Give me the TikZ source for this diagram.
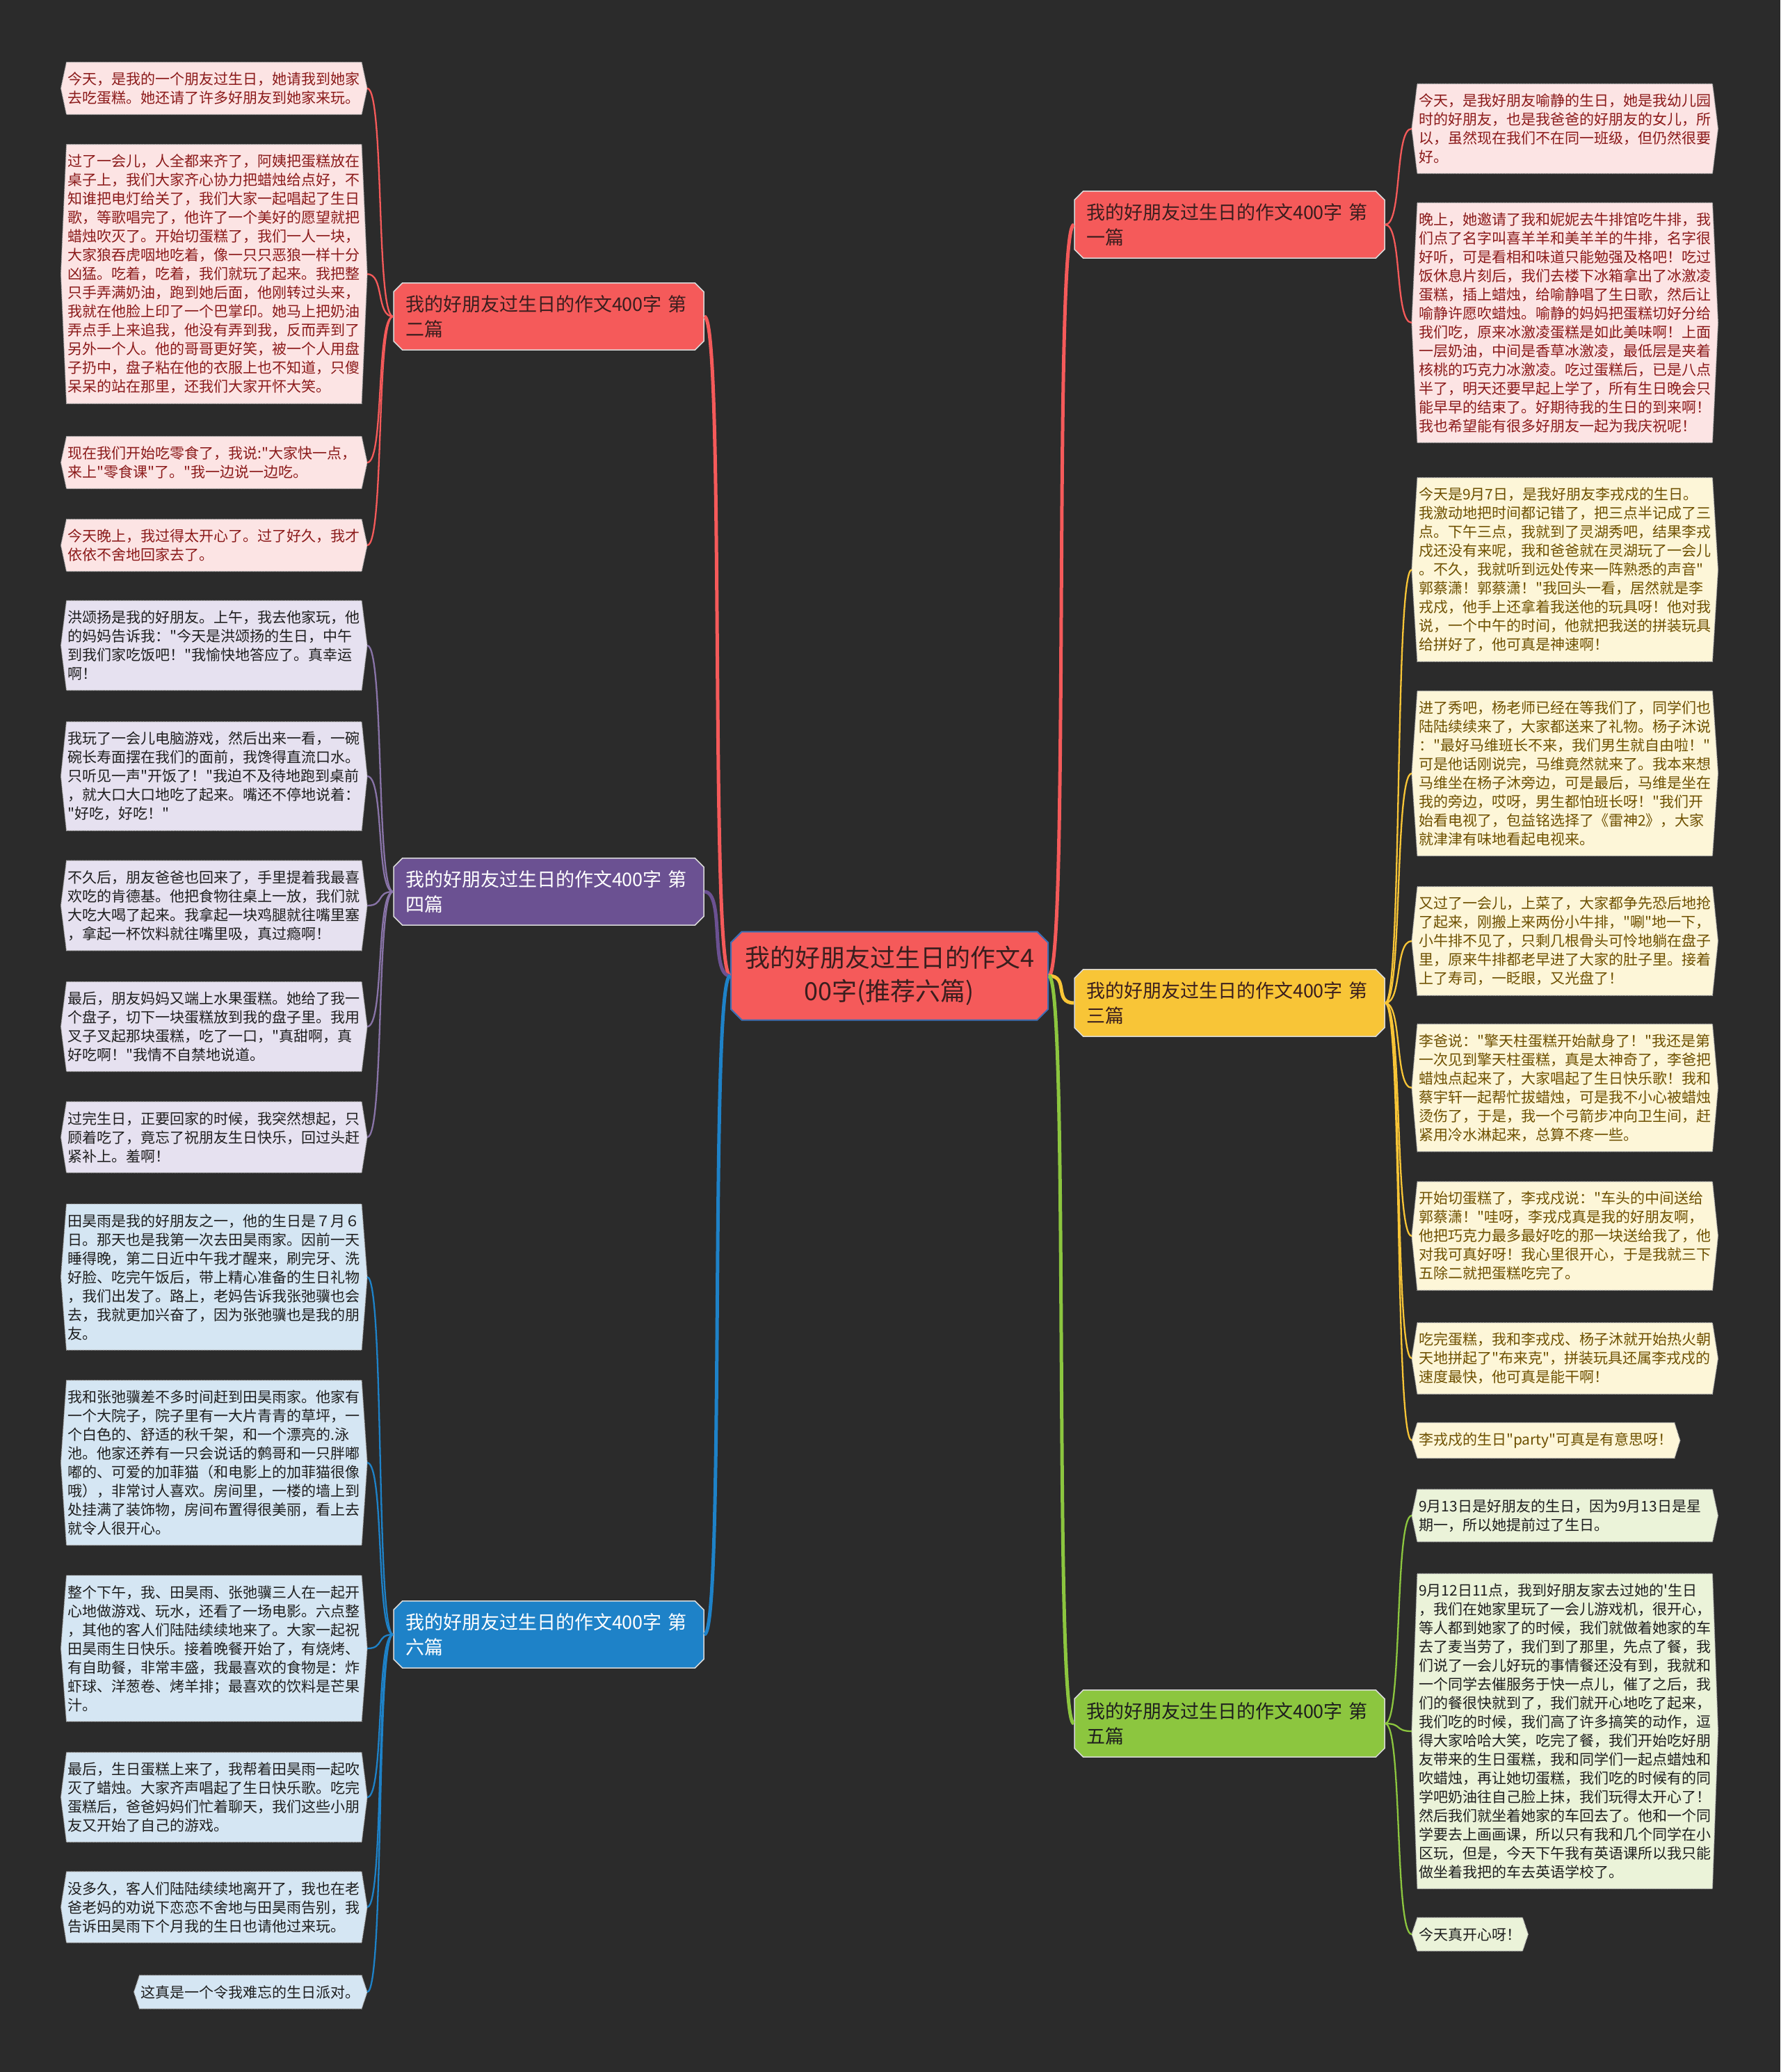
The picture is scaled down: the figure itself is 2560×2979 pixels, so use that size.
\documentclass[tikz,border=0pt]{standalone}
\usepackage{fontspec}
\setmainfont{Noto Sans CJK SC}[Ligatures=TeXOff]
\usetikzlibrary{shapes.misc,backgrounds}

\definecolor{bgdark}{HTML}{2B2B2B}
\definecolor{redfill}{HTML}{F55A5A}
\definecolor{redtext}{HTML}{3A1E1E}
\definecolor{coreedge}{HTML}{3E6FB5}
\definecolor{purplefill}{HTML}{6B5192}
\definecolor{bluefill}{HTML}{1E82C8}
\definecolor{yellowfill}{HTML}{F8C537}
\definecolor{greenfill}{HTML}{8CC63F}
\definecolor{pinkleaf}{HTML}{FCE4E4}
\definecolor{pinktext}{HTML}{8B1A1A}
\definecolor{lavleaf}{HTML}{E6E1F0}
\definecolor{skyleaf}{HTML}{D5E6F3}
\definecolor{creamleaf}{HTML}{FDF6D8}
\definecolor{creamtext}{HTML}{6E5000}
\definecolor{mintleaf}{HTML}{EBF3D9}
\definecolor{inktext}{HTML}{1E1E1E}

\tikzset{
  core/.style={chamfered rectangle, chamfered rectangle xsep=12pt, fill=redfill, draw=coreedge,
    line width=2pt, text=redtext, align=center, minimum width=456pt, minimum height=127pt,
    font=\fontsize{36}{48}\selectfont},
  topic/.style={chamfered rectangle, chamfered rectangle xsep=9pt, draw=white!85!black,
    line width=1.5pt, text width=412pt, align=left, inner xsep=8pt, inner ysep=14pt,
    font=\fontsize{27}{36}\selectfont},
  leaf/.style={align=left, inner xsep=10pt, inner ysep=14pt, font=\fontsize{21}{27}\selectfont},
  wide/.style={leaf, text width=420pt},
  lhs/.style={anchor=east},
  rhs/.style={anchor=west},
  hexedge/.style={draw=white!72!black, densely dotted, line width=1.2pt},
  bough/.style={line width=5pt},
  twig/.style={line width=2.3pt}
}

\begin{document}
\begin{tikzpicture}[x=1pt, y=-1pt]
  \useasboundingbox (0,0) rectangle (2560,2979);

  % centre and branches
  \node[core] (core) at (1279,1403) {我的好朋友过生日的作文4\\00字(推荐六篇)};
  \node[topic, fill=redfill, text=redtext] (b2) at (789,455) {我的好朋友过生日的作文400字 第\\二篇};
  \node[topic, fill=purplefill, text=white] (b4) at (789,1282) {我的好朋友过生日的作文400字 第\\四篇};
  \node[topic, fill=bluefill, text=white] (b6) at (789,2350) {我的好朋友过生日的作文400字 第\\六篇};
  \node[topic, fill=redfill, text=redtext] (b1) at (1768,323) {我的好朋友过生日的作文400字 第\\一篇};
  \node[topic, fill=yellowfill, text=redtext] (b3) at (1768,1442) {我的好朋友过生日的作文400字 第\\三篇};
  \node[topic, fill=greenfill, text=inktext] (b5) at (1768,2478) {我的好朋友过生日的作文400字 第\\五篇};

  % second piece
  \node[wide, lhs, text=pinktext] (l2a) at (528,127) {今天，是我的一个朋友过生日，她请我到她家\\去吃蛋糕。她还请了许多好朋友到她家来玩。};
  \node[wide, lhs, text=pinktext] (l2b) at (528,394) {过了一会儿，人全都来齐了，阿姨把蛋糕放在\\桌子上，我们大家齐心协力把蜡烛给点好，不\\知谁把电灯给关了，我们大家一起唱起了生日\\歌，等歌唱完了，他许了一个美好的愿望就把\\蜡烛吹灭了。开始切蛋糕了，我们一人一块，\\大家狼吞虎咽地吃着，像一只只恶狼一样十分\\凶猛。吃着，吃着，我们就玩了起来。我把整\\只手弄满奶油，跑到她后面，他刚转过头来，\\我就在他脸上印了一个巴掌印。她马上把奶油\\弄点手上来追我，他没有弄到我，反而弄到了\\另外一个人。他的哥哥更好笑，被一个人用盘\\子扔中，盘子粘在他的衣服上也不知道，只傻\\呆呆的站在那里，还我们大家开怀大笑。};
  \node[wide, lhs, text=pinktext] (l2c) at (528,665) {现在我们开始吃零食了，我说:"大家快一点，\\来上"零食课"了。"我一边说一边吃。};
  \node[wide, lhs, text=pinktext] (l2d) at (528,784) {今天晚上，我过得太开心了。过了好久，我才\\依依不舍地回家去了。};

  % fourth piece
  \node[wide, lhs, text=inktext] (l4a) at (528,928) {洪颂扬是我的好朋友。上午，我去他家玩，他\\的妈妈告诉我："今天是洪颂扬的生日，中午\\到我们家吃饭吧！"我愉快地答应了。真幸运\\啊！};
  \node[wide, lhs, text=inktext] (l4b) at (528,1116) {我玩了一会儿电脑游戏，然后出来一看，一碗\\碗长寿面摆在我们的面前，我馋得直流口水。\\只听见一声"开饭了！"我迫不及待地跑到桌前\\，就大口大口地吃了起来。嘴还不停地说着：\\"好吃，好吃！"};
  \node[wide, lhs, text=inktext] (l4c) at (528,1302) {不久后，朋友爸爸也回来了，手里提着我最喜\\欢吃的肯德基。他把食物往桌上一放，我们就\\大吃大喝了起来。我拿起一块鸡腿就往嘴里塞\\，拿起一杯饮料就往嘴里吸，真过瘾啊！};
  \node[wide, lhs, text=inktext] (l4d) at (528,1476) {最后，朋友妈妈又端上水果蛋糕。她给了我一\\个盘子，切下一块蛋糕放到我的盘子里。我用\\叉子叉起那块蛋糕，吃了一口，"真甜啊，真\\好吃啊！"我情不自禁地说道。};
  \node[wide, lhs, text=inktext] (l4e) at (528,1635) {过完生日，正要回家的时候，我突然想起，只\\顾着吃了，竟忘了祝朋友生日快乐，回过头赶\\紧补上。羞啊！};

  % sixth piece
  \node[wide, lhs, text=inktext] (l6a) at (528,1836) {田昊雨是我的好朋友之一，他的生日是７月６\\日。那天也是我第一次去田昊雨家。因前一天\\睡得晚，第二日近中午我才醒来，刷完牙、洗\\好脸、吃完午饭后，带上精心准备的生日礼物\\，我们出发了。路上，老妈告诉我张弛骥也会\\去，我就更加兴奋了，因为张弛骥也是我的朋\\友。};
  \node[wide, lhs, text=inktext] (l6b) at (528,2103) {我和张弛骥差不多时间赶到田昊雨家。他家有\\一个大院子，院子里有一大片青青的草坪，一\\个白色的、舒适的秋千架，和一个漂亮的.泳\\池。他家还养有一只会说话的鹩哥和一只胖嘟\\嘟的、可爱的加菲猫（和电影上的加菲猫很像\\哦），非常讨人喜欢。房间里，一楼的墙上到\\处挂满了装饰物，房间布置得很美丽，看上去\\就令人很开心。};
  \node[wide, lhs, text=inktext] (l6c) at (528,2370) {整个下午，我、田昊雨、张弛骥三人在一起开\\心地做游戏、玩水，还看了一场电影。六点整\\，其他的客人们陆陆续续地来了。大家一起祝\\田昊雨生日快乐。接着晚餐开始了，有烧烤、\\有自助餐，非常丰盛，我最喜欢的食物是：炸\\虾球、洋葱卷、烤羊排；最喜欢的饮料是芒果\\汁。};
  \node[wide, lhs, text=inktext] (l6d) at (528,2584) {最后，生日蛋糕上来了，我帮着田昊雨一起吹\\灭了蜡烛。大家齐声唱起了生日快乐歌。吃完\\蛋糕后，爸爸妈妈们忙着聊天，我们这些小朋\\友又开始了自己的游戏。};
  \node[wide, lhs, text=inktext] (l6e) at (528,2742) {没多久，客人们陆陆续续地离开了，我也在老\\爸老妈的劝说下恋恋不舍地与田昊雨告别，我\\告诉田昊雨下个月我的生日也请他过来玩。};
  \node[leaf, lhs, text=inktext] (l6f) at (528,2864) {这真是一个令我难忘的生日派对。};

  % first piece
  \node[wide, rhs, text=pinktext] (r1a) at (2030,185) {今天，是我好朋友喻静的生日，她是我幼儿园\\时的好朋友，也是我爸爸的好朋友的女儿，所\\以，虽然现在我们不在同一班级，但仍然很要\\好。};
  \node[wide, rhs, text=pinktext] (r1b) at (2030,464) {晚上，她邀请了我和妮妮去牛排馆吃牛排，我\\们点了名字叫喜羊羊和美羊羊的牛排，名字很\\好听，可是看相和味道只能勉强及格吧！吃过\\饭休息片刻后，我们去楼下冰箱拿出了冰激凌\\蛋糕，插上蜡烛，给喻静唱了生日歌，然后让\\喻静许愿吹蜡烛。喻静的妈妈把蛋糕切好分给\\我们吃，原来冰激凌蛋糕是如此美味啊！上面\\一层奶油，中间是香草冰激凌，最低层是夹着\\核桃的巧克力冰激凌。吃过蛋糕后，已是八点\\半了，明天还要早起上学了，所有生日晚会只\\能早早的结束了。好期待我的生日的到来啊！\\我也希望能有很多好朋友一起为我庆祝呢！};

  % third piece
  \node[wide, rhs, text=creamtext] (r3a) at (2030,819) {今天是9月7日，是我好朋友李戎戍的生日。\\我激动地把时间都记错了，把三点半记成了三\\点。下午三点，我就到了灵湖秀吧，结果李戎\\戍还没有来呢，我和爸爸就在灵湖玩了一会儿\\。不久，我就听到远处传来一阵熟悉的声音"\\郭蔡潇！郭蔡潇！"我回头一看，居然就是李\\戎戍，他手上还拿着我送他的玩具呀！他对我\\说，一个中午的时间，他就把我送的拼装玩具\\给拼好了，他可真是神速啊！};
  \node[wide, rhs, text=creamtext] (r3b) at (2030,1112) {进了秀吧，杨老师已经在等我们了，同学们也\\陆陆续续来了，大家都送来了礼物。杨子沐说\\："最好马维班长不来，我们男生就自由啦！"\\可是他话刚说完，马维竟然就来了。我本来想\\马维坐在杨子沐旁边，可是最后，马维是坐在\\我的旁边，哎呀，男生都怕班长呀！"我们开\\始看电视了，包益铭选择了《雷神2》，大家\\就津津有味地看起电视来。};
  \node[wide, rhs, text=creamtext] (r3c) at (2030,1353) {又过了一会儿，上菜了，大家都争先恐后地抢\\了起来，刚搬上来两份小牛排，"唰"地一下，\\小牛排不见了，只剩几根骨头可怜地躺在盘子\\里，原来牛排都老早进了大家的肚子里。接着\\上了寿司，一眨眼，又光盘了！};
  \node[wide, rhs, text=creamtext] (r3d) at (2030,1564) {李爸说："擎天柱蛋糕开始献身了！"我还是第\\一次见到擎天柱蛋糕，真是太神奇了，李爸把\\蜡烛点起来了，大家唱起了生日快乐歌！我和\\蔡宇轩一起帮忙拔蜡烛，可是我不小心被蜡烛\\烫伤了，于是，我一个弓箭步冲向卫生间，赶\\紧用冷水淋起来，总算不疼一些。};
  \node[wide, rhs, text=creamtext] (r3e) at (2030,1777) {开始切蛋糕了，李戎戍说："车头的中间送给\\郭蔡潇！"哇呀，李戎戍真是我的好朋友啊，\\他把巧克力最多最好吃的那一块送给我了，他\\对我可真好呀！我心里很开心，于是我就三下\\五除二就把蛋糕吃完了。};
  \node[wide, rhs, text=creamtext] (r3f) at (2030,1953) {吃完蛋糕，我和李戎戍、杨子沐就开始热火朝\\天地拼起了"布来克"，拼装玩具还属李戎戍的\\速度最快，他可真是能干啊！};
  \node[leaf, rhs, text=creamtext] (r3g) at (2030,2071) {李戎戍的生日"party"可真是有意思呀！};

  % fifth piece
  \node[wide, rhs, text=inktext] (r5a) at (2030,2179) {9月13日是好朋友的生日，因为9月13日是星\\期一，所以她提前过了生日。};
  \node[wide, rhs, text=inktext] (r5b) at (2030,2489) {9月12日11点，我到好朋友家去过她的'生日\\，我们在她家里玩了一会儿游戏机，很开心，\\等人都到她家了的时候，我们就做着她家的车\\去了麦当劳了，我们到了那里，先点了餐，我\\们说了一会儿好玩的事情餐还没有到，我就和\\一个同学去催服务于快一点儿，催了之后，我\\们的餐很快就到了，我们就开心地吃了起来，\\我们吃的时候，我们高了许多搞笑的动作，逗\\得大家哈哈大笑，吃完了餐，我们开始吃好朋\\友带来的生日蛋糕，我和同学们一起点蜡烛和\\吹蜡烛，再让她切蛋糕，我们吃的时候有的同\\学吧奶油往自己脸上抹，我们玩得太开心了！\\然后我们就坐着她家的车回去了。他和一个同\\学要去上画画课，所以只有我和几个同学在小\\区玩，但是，今天下午我有英语课所以我只能\\做坐着我把的车去英语学校了。};
  \node[leaf, rhs, text=inktext] (r5c) at (2030,2781) {今天真开心呀！};

  % dark ground and leaf boxes
  \begin{scope}[on background layer]
    \fill[bgdark] (0,0) rectangle (2560,2979);
    \foreach \n/\c in {l2a/pinkleaf,l2b/pinkleaf,l2c/pinkleaf,l2d/pinkleaf,
        l4a/lavleaf,l4b/lavleaf,l4c/lavleaf,l4d/lavleaf,l4e/lavleaf,
        l6a/skyleaf,l6b/skyleaf,l6c/skyleaf,l6d/skyleaf,l6e/skyleaf,l6f/skyleaf,
        r1a/pinkleaf,r1b/pinkleaf,
        r3a/creamleaf,r3b/creamleaf,r3c/creamleaf,r3d/creamleaf,r3e/creamleaf,r3f/creamleaf,r3g/creamleaf,
        r5a/mintleaf,r5b/mintleaf,r5c/mintleaf}
      \filldraw[hexedge, fill=\c] ([xshift=8pt]\n.north west) -- ([xshift=-8pt]\n.north east) -- (\n.east)
        -- ([xshift=-8pt]\n.south east) -- ([xshift=8pt]\n.south west) -- (\n.west) -- cycle;
  \end{scope}

  % connectors
  \draw[bough, redfill] (core.west) .. controls +(-30,0) and +(30,0) .. (b2.east);
  \draw[bough, purplefill] (core.west) .. controls +(-30,0) and +(30,0) .. (b4.east);
  \draw[bough, bluefill] (core.west) .. controls +(-30,0) and +(30,0) .. (b6.east);
  \draw[bough, redfill] (core.east) .. controls +(30,0) and +(-30,0) .. (b1.west);
  \draw[bough, yellowfill] (core.east) .. controls +(30,0) and +(-30,0) .. (b3.west);
  \draw[bough, greenfill] (core.east) .. controls +(30,0) and +(-30,0) .. (b5.west);

  \foreach \n in {l2a,l2b,l2c,l2d}
    \draw[twig, redfill] (b2.west) .. controls +(-25,0) and +(25,0) .. (\n.east);
  \foreach \n in {l4a,l4b,l4c,l4d,l4e}
    \draw[twig, purplefill!80!white] (b4.west) .. controls +(-25,0) and +(25,0) .. (\n.east);
  \foreach \n in {l6a,l6b,l6c,l6d,l6e,l6f}
    \draw[twig, bluefill] (b6.west) .. controls +(-25,0) and +(25,0) .. (\n.east);
  \foreach \n in {r1a,r1b}
    \draw[twig, redfill] (b1.east) .. controls +(25,0) and +(-25,0) .. (\n.west);
  \foreach \n in {r3a,r3b,r3c,r3d,r3e,r3f,r3g}
    \draw[twig, yellowfill] (b3.east) .. controls +(25,0) and +(-25,0) .. (\n.west);
  \foreach \n in {r5a,r5b,r5c}
    \draw[twig, greenfill] (b5.east) .. controls +(25,0) and +(-25,0) .. (\n.west);
\end{tikzpicture}
\end{document}
